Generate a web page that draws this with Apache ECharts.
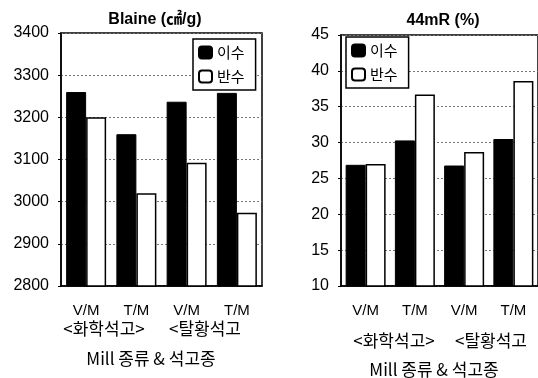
<!DOCTYPE html>
<html><head><meta charset="utf-8">
<script src="https://cdn.jsdelivr.net/npm/echarts@6/dist/echarts.min.js"></script>
<style>html,body{margin:0;padding:0;background:#fff}#c{width:538px;height:378px}</style>
</head><body><div id="c"></div>
<script>
const categories = ['V/M','T/M','V/M','T/M'];
const seriesNames = ['이수','반수'];
const blaineIsu = [3260, 3160, 3237, 3258];
const blaineBansu = [3200, 3020, 3092, 2974];
const r44Isu = [26.9, 30.3, 26.8, 30.5];
const r44Bansu = [27.0, 36.7, 28.7, 38.6];
const blaineTicks = {min: 2800, max: 3400, interval: 100};
const r44Ticks = {min: 10, max: 45, interval: 5};

const latin = "'Liberation Sans', Arial, 'Noto Sans CJK KR', sans-serif";
const kr = "'Noto Sans CJK KR', 'Liberation Sans', sans-serif";

const chart = echarts.init(document.getElementById('c'), null, {renderer:'canvas'});
function yAxis(idx, t){
  return {gridIndex: idx, type:'value', min:t.min, max:t.max, interval:t.interval,
    axisLine:{show:true, lineStyle:{color:'#000', width:1.5}},
    axisTick:{show:true, length:3, lineStyle:{color:'#000'}},
    axisLabel:{color:'#000', fontSize:16, fontFamily:latin, margin:12, formatter: v => String(v)},
    splitLine:{show:true, lineStyle:{color:'#777', type:[2,2], width:1}}};
}
function xAxis(idx){
  return {gridIndex: idx, type:'category', data: categories,
    axisLine:{show:true, lineStyle:{color:'#000', width:1.5}},
    axisTick:{show:false},
    axisLabel:{color:'#000', fontSize:15, fontFamily:latin, margin:17}};
}
const blackStyle = {color:'#000', borderColor:'#000', borderWidth:1};
const whiteStyle = {color:'#fff', borderColor:'#000', borderWidth:1.5};
function legend(left, top){
  return {orient:'vertical', left:left, top:top, data:seriesNames,
    itemWidth:13, itemHeight:12, itemGap:9,
    borderColor:'#000', borderWidth:1.5, backgroundColor:'#fff', borderRadius:0,
    padding:[6,11,6,5],
    textStyle:{fontSize:15, fontFamily:kr, color:'#000'}};
}
chart.setOption({
  animation:false,
  grid:[
    {left:61, top:33, width:201, height:253, show:true, borderColor:'#000', borderWidth:1.5, backgroundColor:'transparent'},
    {left:341, top:35, width:200, height:251, show:true, borderColor:'#000', borderWidth:1.5, backgroundColor:'transparent'}
  ],
  xAxis:[xAxis(0), xAxis(1)],
  yAxis:[yAxis(0, blaineTicks), yAxis(1, r44Ticks)],
  legend:[legend(193, 39), legend(346, 37)],
  series:[
    {name:seriesNames[0], type:'bar', xAxisIndex:0, yAxisIndex:0, data:blaineIsu, barWidth:20, barGap:'0%', itemStyle:blackStyle},
    {name:seriesNames[1], type:'bar', xAxisIndex:0, yAxisIndex:0, data:blaineBansu, barWidth:20, barGap:'0%', itemStyle:whiteStyle},
    {name:seriesNames[0], type:'bar', xAxisIndex:1, yAxisIndex:1, data:r44Isu, barWidth:20, barGap:'0%', itemStyle:blackStyle},
    {name:seriesNames[1], type:'bar', xAxisIndex:1, yAxisIndex:1, data:r44Bansu, barWidth:20, barGap:'0%', itemStyle:whiteStyle}
  ],
  graphic:[
    {type:'text', x:155, y:20, style:{text:'Blaine (㎠/g)', fill:'#000', font:"bold 16px "+latin, textAlign:'center', textVerticalAlign:'middle'}},
    {type:'text', x:443, y:21, style:{text:'44mR (%)', fill:'#000', font:"bold 16px "+latin, textAlign:'center', textVerticalAlign:'middle'}},
    {type:'text', x:104, y:329, style:{text:'<화학석고>', fill:'#000', font:"17px "+kr, textAlign:'center', textVerticalAlign:'middle'}},
    {type:'text', x:205, y:329, style:{text:'<탈황석고', fill:'#000', font:"17px "+kr, textAlign:'center', textVerticalAlign:'middle'}},
    {type:'text', x:151, y:359, style:{text:'Mill 종류 & 석고종', fill:'#000', font:"17px "+kr, textAlign:'center', textVerticalAlign:'middle'}},
    {type:'text', x:394, y:341, style:{text:'<화학석고>', fill:'#000', font:"17px "+kr, textAlign:'center', textVerticalAlign:'middle'}},
    {type:'text', x:491, y:341, style:{text:'<탈황석고', fill:'#000', font:"17px "+kr, textAlign:'center', textVerticalAlign:'middle'}},
    {type:'text', x:434, y:370, style:{text:'Mill 종류 & 석고종', fill:'#000', font:"17px "+kr, textAlign:'center', textVerticalAlign:'middle'}}
  ]
});
</script></body></html>
